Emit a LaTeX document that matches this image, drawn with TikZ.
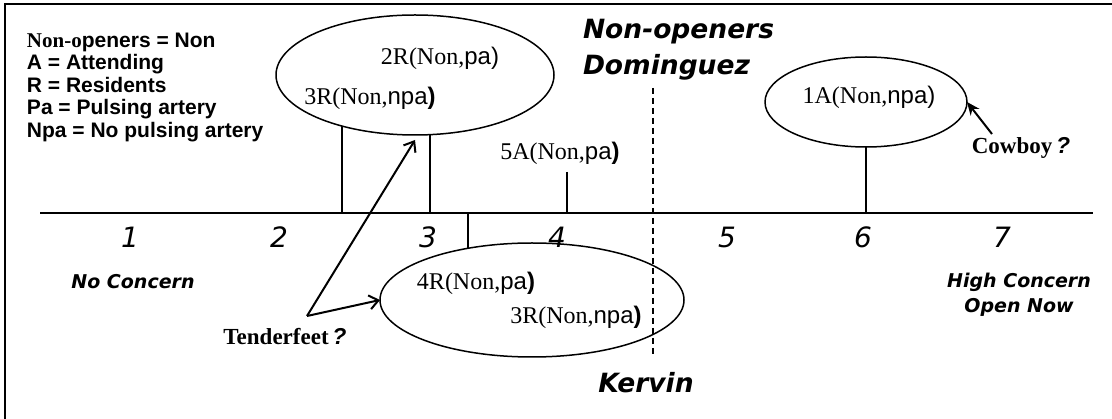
\documentclass[tikz,border=0pt]{standalone}
\usepackage{fontspec}
\setmainfont{Liberation Serif}
\setsansfont{Liberation Sans}
\newfontfamily\tah{DejaVu Sans}
\usetikzlibrary{shapes.geometric,arrows.meta}
\newcommand{\setfs}[1]{\fontsize{#1}{#1}\selectfont}
\begin{document}
\begin{tikzpicture}[x=1pt,y=-1pt,
  every node/.style={inner sep=0pt, outer sep=0pt},
  oval/.style={draw, ellipse, line width=1.5pt, inner sep=0pt},
  legend/.style={anchor=base west, font=\sffamily\bfseries\setfs{21}},
  num/.style={font=\tah\itshape\setfs{28}},
  title/.style={font=\tah\bfseries\itshape\setfs{26.5}},
  lab/.style={font=\tah\bfseries\itshape\setfs{19}},
  inel/.style={font=\rmfamily\setfs{24}},
  remark/.style={font=\rmfamily\bfseries\setfs{23}},
  link/.style={line width=1.5pt},
  guide/.style={line width=1.5pt, dash pattern=on 6pt off 4pt},
  pointer/.style={line width=2pt, -{Straight Barb[length=9pt,width=14pt]}},
  solidptr/.style={line width=2pt, -{Stealth[length=13pt,width=11pt]}},
]
\useasboundingbox (0,0) rectangle (1112,419);
\fill[white] (0,0) rectangle (1112,419);
\clip (0,0) rectangle (1112,419);
\draw[line width=2pt] (5,4) rectangle (1140,440);

% legend
\node[legend] (l1) at (27,47.5) {{\rmfamily Non-o}peners = Non};
\node[legend] (l2) at (27,70) {A = Attending};
\node[legend] (l3) at (27,92.5) {R = Residents};
\node[legend] (l4) at (27,115) {Pa = Pulsing artery};
\node[legend] (l5) at (27,137.5) {Npa = No pulsing artery};

% ellipses
\node[oval, minimum width=278pt, minimum height=120pt] (e1) at (415,75) {};
\node[oval, minimum width=304pt, minimum height=114pt] (e2) at (532,300) {};
\node[oval, minimum width=202pt, minimum height=90pt] (e3) at (866,102) {};

% ellipse texts
\node[inel] (t2r) at (440,58) {2R(Non,{\sffamily pa)}};
\node[inel] (t3ra) at (370,98) {3R(Non,{\sffamily npa\bfseries )}};
\node[inel] (t4r) at (476,283) {4R(Non,{\sffamily pa\bfseries )}};
\node[inel] (t3rb) at (576,317) {3R(Non,{\sffamily npa\bfseries )}};
\node[inel] (t5a) at (560,153) {5A(Non,{\sffamily pa\bfseries )}};
\node[inel] (t1a) at (869,97) {1A(Non,{\sffamily npa)}};

% axis
\coordinate (axL) at (40,213);
\coordinate (axR) at (1093,213);
\draw[link] (axL) -- (axR);

% drops
\draw[link] (e1.215.5) -- (e1.215.5 |- axL);
\draw[link] (e1.284.1) -- (e1.284.1 |- axL);
\draw[link] (e3.south) -- (e3.south |- axL);
\draw[link] (e2.141.6) -- (e2.141.6 |- axL);
\coordinate (p5) at (567,172);
\draw[link] (p5) -- (p5 |- axL);

% dashed divider
\coordinate (dT) at (653,88);
\coordinate (dB) at (653,357);
\draw[guide] (dT) -- (dB);

% scale numbers
\foreach \n/\x in {1/130,2/279,3/428,4/557,5/727,6/863,7/1002}
  \node[num] (n\n) at (\x,237) {\n};

% labels
\node[lab] (nc) at (133,282) {No Concern};
\node[lab] (hc) at (1019,282) {High Concern};
\node[lab] (on) at (1019,307) {Open Now};
\node[title, anchor=west] (nop) at (583,32) {Non-openers};
\node[title, anchor=west] (dom) at (583,67) {Dominguez};
\node[title] (ker) at (646,383) {Kervin};

% remarks and arrows
\node[remark] (tf) at (285,337) {Tenderfeet\,{\sffamily\itshape ?}};
\node[remark] (cb) at (1021,148) {Cowboy\,{\sffamily\itshape ?}};
\coordinate (apex) at (307,316);
\draw[pointer] (apex) -- ([yshift=-5pt]e1.south);
\draw[pointer] (apex) -- (e2.west);
\coordinate (cs) at (992,134);
\draw[solidptr] (cs) -- (e3.east);
\end{tikzpicture}
\end{document}
